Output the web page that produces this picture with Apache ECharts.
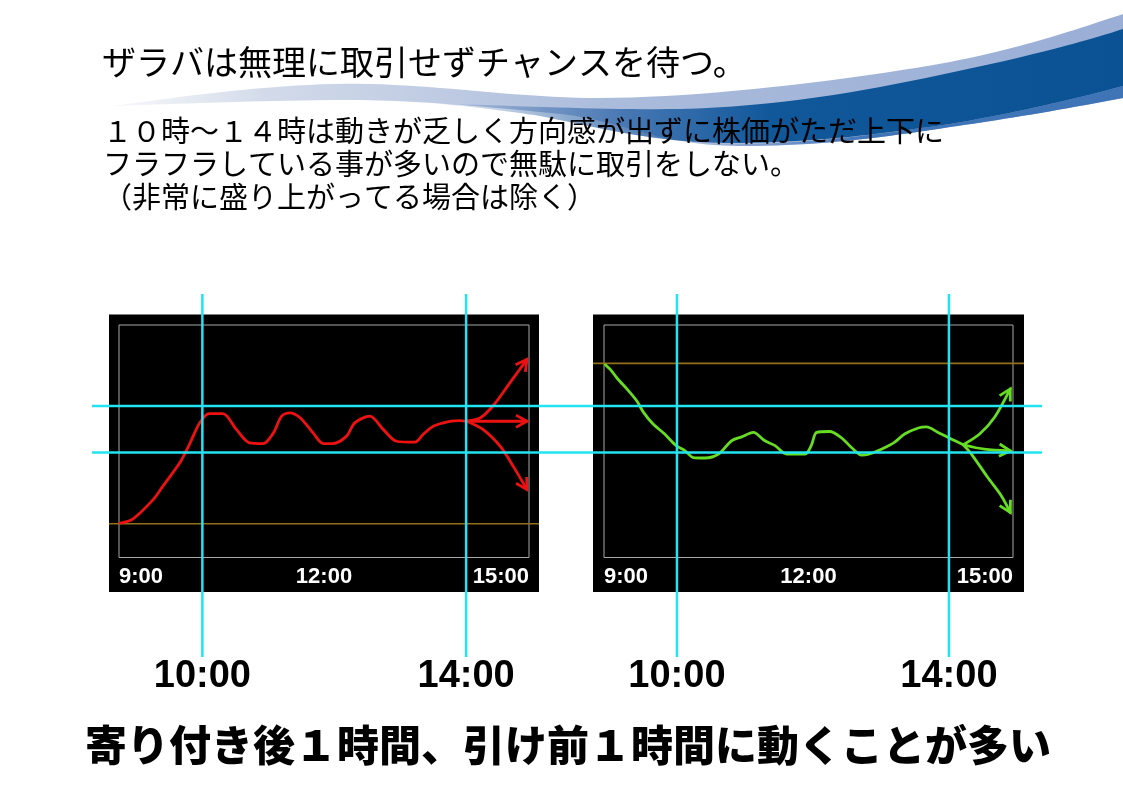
<!DOCTYPE html>
<html><head><meta charset="utf-8">
<script src="https://cdn.jsdelivr.net/npm/echarts@6/dist/echarts.min.js"></script>
<style>html,body{margin:0;padding:0;background:#fff}#c{width:1123px;height:794px}</style>
</head><body><div id="c"></div>
<script>
// ---------- data ----------
const titleText = 'ザラバは無理に取引せずチャンスを待つ。';
const bodyLines = [
  '１０時～１４時は動きが乏しく方向感が出ずに株価がただ上下に',
  'フラフラしている事が多いので無駄に取引をしない。',
  '（非常に盛り上がってる場合は除く）'
];
const footerText = '寄り付き後１時間、引け前１時間に動くことが多い';
const timeTicks = [9, 12, 15];
const tickLabels = ['9:00', '12:00', '15:00'];
const markerLabels = ['10:00', '14:00'];
const markerTimesLeft = [10.22, 14.08];
const markerTimesRight = [10.07, 14.06];
const bandLevels = [45.2, 65.2];
const openLeft = 14.5;
const openRight = 83.5;

const redMain = [[9.02,14.8],[9.2,16.5],[9.5,24.9],[9.64,30.6],[9.89,40.7],[10.03,48.6],[10.18,57.9],[10.32,61.9],[10.52,61.9],[10.72,55.0],[10.91,49.3],[11.11,49.0],[11.26,53.6],[11.38,60.8],[11.5,62.2],[11.65,60.1],[11.84,53.6],[11.99,49.0],[12.13,49.0],[12.33,52.2],[12.45,57.9],[12.67,60.8],[12.87,55.0],[13.06,50.0],[13.33,49.6],[13.45,52.9],[13.6,56.5],[13.84,58.6],[13.99,58.9],[14.09,58.6]];
const redUp = [[14.09,58.6],[14.29,60.1],[14.49,65.8],[14.72,75.1],[14.97,85.2]];
const redFlat = [[14.09,58.6],[14.97,58.6]];
const redDown = [[14.09,58.6],[14.33,55.0],[14.58,47.8],[14.77,39.2],[14.97,29.2]];

const greenMain = [[9.02,82.9],[9.11,80.3],[9.19,77.2],[9.36,71.7],[9.48,67.4],[9.58,62.4],[9.72,57.4],[9.89,53.1],[10.06,48.1],[10.19,45.9],[10.31,43.0],[10.48,42.8],[10.68,44.5],[10.87,50.2],[11.02,51.9],[11.19,53.8],[11.36,50.2],[11.51,48.1],[11.68,44.5],[11.95,44.5],[12.04,48.1],[12.12,53.8],[12.31,54.2],[12.48,51.6],[12.63,47.3],[12.78,44.0],[12.87,44.3],[13.07,46.6],[13.26,49.5],[13.41,53.1],[13.61,55.7],[13.73,56.2],[13.9,53.8],[14.1,50.9],[14.27,48.5]];
const greenUp = [[14.27,48.5],[14.51,53.1],[14.73,60.3],[14.96,72.5]];
const greenFlat = [[14.27,48.5],[14.58,46.6],[14.96,45.9]];
const greenDown = [[14.27,48.5],[14.39,44.5],[14.63,34.4],[14.83,26.5],[14.96,19.4]];

// ---------- layout & style ----------
const W = 1123, H = 794;
const T0 = 9, T1 = 15, Y0 = 0, Y1 = 100;
const FT = 325, FB = 557.5;     // inner frame top / bottom
const BT = 314.5, BB = 592;     // black box top / bottom
const VT = 294, VB = 657;       // vertical marker extent
const HL = 92, HR = 1042;       // horizontal marker extent
const panels = [
  {boxL:109, boxR:539, frL:119, frR:529, color:'#ee1111', open: openLeft, markers: markerTimesLeft,
   main: redMain, branches: [redUp, redFlat, redDown]},
  {boxL:593, boxR:1024, frL:604, frR:1013, color:'#66dd22', open: openRight, markers: markerTimesRight,
   main: greenMain, branches: [greenUp, greenFlat, greenDown]}
];
const JP = "'Noto Sans CJK JP', sans-serif";
const CYAN = '#22e3f0';
const ORANGE = '#93701a';
const ARROW = 'path://M5,-9 M0,9 L5,0 L10,9';

function hasFont(f) {
  const c = document.createElement('canvas').getContext('2d');
  c.font = '72px monospace'; const a = c.measureText('10:00 abcW').width;
  c.font = "72px '" + f + "', monospace"; const b = c.measureText('10:00 abcW').width;
  return a !== b;
}
const BIG = hasFont('Liberation Sans Narrow')
  ? {family:"'Liberation Sans Narrow', sans-serif", size:46}
  : {family:"'Liberation Sans', Arial, sans-serif", size:38};

const ky = (FB - FT) / (Y1 - Y0);
const outerMax = Y1 + (FT - BT) / ky;
const outerMin = Y0 - (BB - FB) / ky;

const grid = [], xAxis = [], yAxis = [], series = [];
function hiddenAxis(min, max, gi) { return {type:'value', min, max, show:false, gridIndex: gi}; }

panels.forEach((p) => {
  // black box grid
  let gi = grid.length;
  grid.push({left:p.boxL, right:W - p.boxR, top:BT, bottom:H - BB, show:true, backgroundColor:'#000', borderWidth:0});
  xAxis.push(hiddenAxis(0, 1, gi));
  yAxis.push(hiddenAxis(outerMin, outerMax, gi));
  series.push({type:'line', xAxisIndex:gi, yAxisIndex:gi, data:[[0,p.open],[1,p.open]], symbol:'none',
    lineStyle:{color:ORANGE, width:1.6}, silent:true, z:2});
  // inner frame grid
  gi = grid.length;
  grid.push({left:p.frL, right:W - p.frR, top:FT, bottom:H - FB, show:true, backgroundColor:'transparent', borderColor:'#a8a8a8', borderWidth:1});
  xAxis.push({type:'value', gridIndex:gi, min:T0, max:T1, interval:3,
    axisLine:{show:false}, axisTick:{show:false}, splitLine:{show:false},
    axisLabel:{color:'#fff', fontSize:22, fontWeight:'bold', fontFamily:"'Liberation Sans', Arial, sans-serif", margin:8,
      alignMinLabel:'left', alignMaxLabel:'right',
      formatter: v => { const i = timeTicks.indexOf(v); return i >= 0 ? tickLabels[i] : ''; }}});
  yAxis.push(hiddenAxis(Y0, Y1, gi));
  const lineOpt = {type:'line', xAxisIndex:gi, yAxisIndex:gi, symbol:'none', smooth:0.3, silent:true, z:3,
    lineStyle:{color:p.color, width:2.8, cap:'round', join:'round'}};
  series.push(Object.assign({data:p.main}, lineOpt));
  p.branches.forEach(b => series.push(Object.assign({data:b}, lineOpt)));
  const kx = (p.frR - p.frL) / (T1 - T0);
  series.push({type:'scatter', xAxisIndex:gi, yAxisIndex:gi, silent:true, z:4,
    symbol:ARROW, symbolSize:22, symbolKeepAspect:true,
    itemStyle:{color:'rgba(0,0,0,0)', borderColor:p.color, borderWidth:2.8, opacity:1},
    data: p.branches.map(b => {
      const a = b[b.length - 2], c = b[b.length - 1];
      const th = Math.atan2((c[1] - a[1]) * ky, (c[0] - a[0]) * kx) * 180 / Math.PI;
      return {value:c, symbolRotate: th - 90};
    })});
});

// horizontal cyan overlay
{
  const gi = grid.length;
  grid.push({left:HL, right:W - HR, top:FT, bottom:H - FB});
  xAxis.push(hiddenAxis(0, 1, gi));
  yAxis.push(hiddenAxis(Y0, Y1, gi));
  bandLevels.forEach(v => series.push({type:'line', xAxisIndex:gi, yAxisIndex:gi, data:[[0,v],[1,v]], symbol:'none',
    lineStyle:{color:CYAN, width:2.5}, silent:true, z:6}));
}
// vertical cyan overlays with big labels
panels.forEach(p => {
  const gi = grid.length;
  grid.push({left:p.frL, right:W - p.frR, top:VT, bottom:H - VB});
  xAxis.push(hiddenAxis(T0, T1, gi));
  yAxis.push(hiddenAxis(0, 1, gi));
  p.markers.forEach(t => series.push({type:'line', xAxisIndex:gi, yAxisIndex:gi, data:[[t,0],[t,1]], symbol:'none',
    lineStyle:{color:CYAN, width:2.5}, silent:true, z:6}));
  series.push({type:'scatter', xAxisIndex:gi, yAxisIndex:gi, silent:true, z:6, symbolSize:1,
    itemStyle:{color:'rgba(0,0,0,0)'},
    label:{show:true, position:'bottom', distance:0, formatter: d => markerLabels[d.dataIndex],
      color:'#000', fontSize:BIG.size, fontWeight:'bold', fontFamily:BIG.family, opacity:1},
    data: p.markers.map(t => [t, 0])});
});

// decorative swoosh: simple M/L/C outlines sampled into polygons
function outline(d) {
  const tk = d.match(/[MLCZ]|-?\d+(\.\d+)?/g);
  const pts = []; let i = 0, cmd = null, cur = [0, 0];
  const num = () => parseFloat(tk[i++]);
  while (i < tk.length) {
    if (/[MLCZ]/.test(tk[i])) { cmd = tk[i++]; if (cmd === 'Z') continue; }
    if (cmd === 'M' || cmd === 'L') { cur = [num(), num()]; pts.push(cur); }
    else if (cmd === 'C') {
      const p1 = [num(), num()], p2 = [num(), num()], p3 = [num(), num()], p0 = cur;
      for (let s = 1; s <= 20; s++) {
        const t = s / 20, u = 1 - t;
        pts.push([u*u*u*p0[0] + 3*u*u*t*p1[0] + 3*u*t*t*p2[0] + t*t*t*p3[0],
                  u*u*u*p0[1] + 3*u*u*t*p1[1] + 3*u*t*t*p2[1] + t*t*t*p3[1]]);
      }
      cur = p3;
    } else i++;
  }
  return pts;
}
function lin(stops) { return {type:'linear', x:0, y:0, x2:1, y2:0, colorStops:stops}; }
const swoosh = [
  {type:'polygon', z:0, silent:true,
   shape:{points:outline('M112,106 C200,94 290,82 370,84 C450,86 520,98 600,98 C700,98 850,80 950,62 C1030,46 1080,28 1123,14 L1123,98 C1060,110 1000,120 950,127 C880,138 820,146 740,146 C660,146 620,120 560,114 C480,106 420,101 360,100 C260,100 180,104 112,106 Z')},
   style:{fill:lin([{offset:0, color:'rgba(215,222,235,0.2)'}, {offset:0.15, color:'#d3dbea'}, {offset:0.5, color:'#aabbdb'}, {offset:1, color:'#9aaed6'}])}},
  {type:'polygon', z:0, silent:true,
   shape:{points:outline('M700,144 C800,146 880,134 950,124 C1020,112 1070,100 1123,86 L1123,98 C1060,110 1000,120 950,127 C880,138 820,146 740,146 Z')},
   style:{fill:lin([{offset:0, color:'rgba(60,110,180,0)'}, {offset:0.4, color:'#3f74b6'}, {offset:1, color:'#3f74b6'}])}},
  {type:'polygon', z:0, silent:true,
   shape:{points:outline('M420,103 C520,106 600,110 680,109 C800,106 900,84 1000,62 C1060,48 1095,38 1123,29 L1123,86 C1070,100 1020,112 950,124 C880,134 820,142 740,143 C660,144 600,128 540,116 C500,110 460,105 420,103 Z')},
   style:{fill:lin([{offset:0, color:'rgba(40,90,160,0)'}, {offset:0.3, color:'rgba(35,95,165,0.75)'}, {offset:0.5, color:'#10589a'}, {offset:1, color:'#0a5294'}])}}
];

const chart = echarts.init(document.getElementById('c'), null, {renderer:'canvas', width:W, height:H});
chart.setOption({
  animation:false,
  backgroundColor:'#fff',
  title:[
    {text:titleText, left:102, top:45, padding:0, textStyle:{fontSize:34, fontWeight:'normal', color:'#000', fontFamily:JP}},
    ...bodyLines.map((t, i) => ({text:t, left:103, top:116 + 33 * i, padding:0,
      textStyle:{fontSize:29, fontWeight:'normal', color:'#000', fontFamily:JP}})),
    {text:footerText, left:85, top:724, padding:0, textStyle:{fontSize:42, fontWeight:900, color:'#000', fontFamily:JP}}
  ],
  graphic: swoosh,
  grid, xAxis, yAxis, series
});
</script>
</body></html>
